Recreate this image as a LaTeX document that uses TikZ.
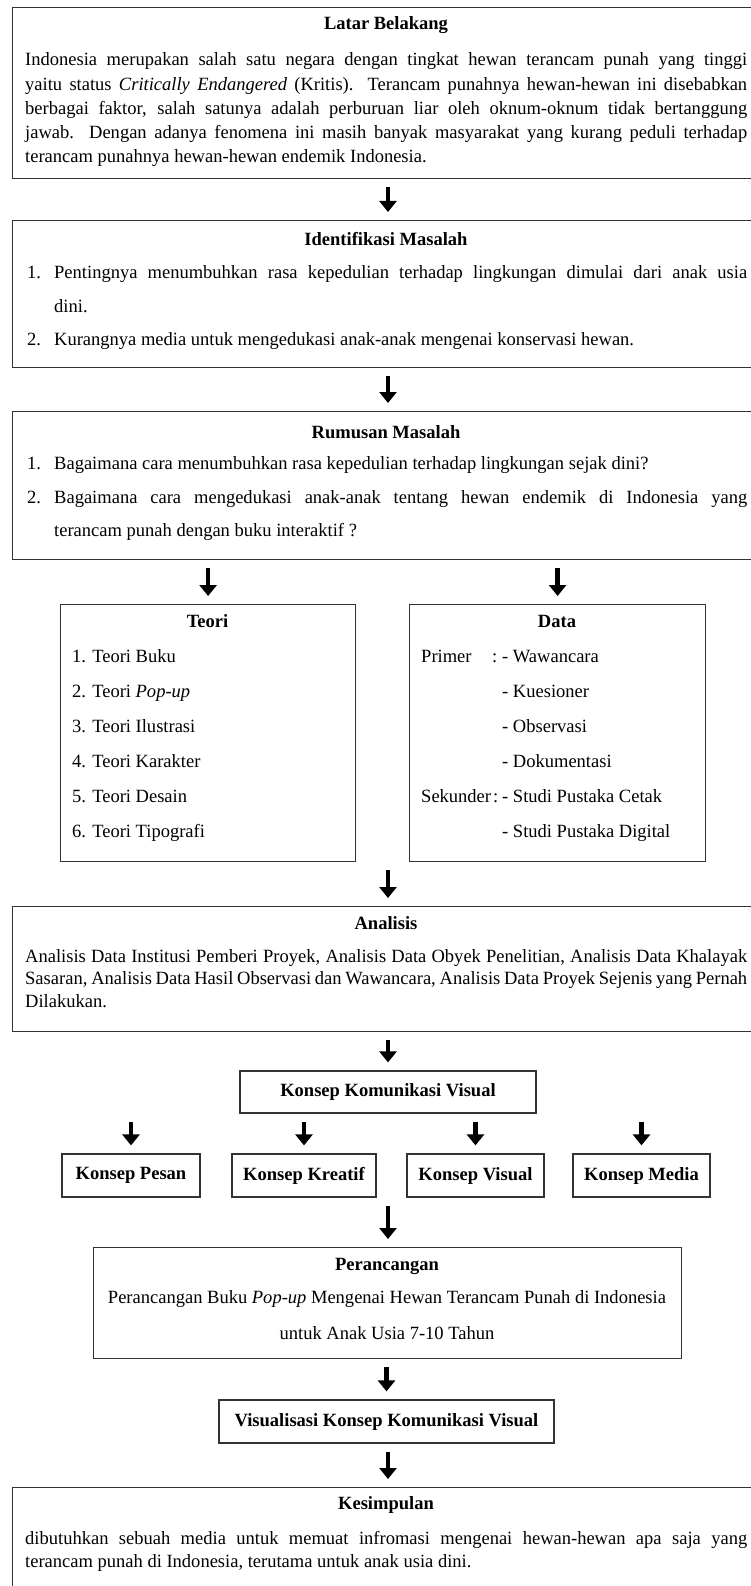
\documentclass[tikz,border=0pt]{standalone}
\usepackage{fontspec}
\setmainfont{Liberation Serif}[FakeStretch=0.99]
\usetikzlibrary{arrows.meta}
\hyphenpenalty=10000
\exhyphenpenalty=10000

\begin{document}
\begin{tikzpicture}[x=1pt,y=-1pt]
\useasboundingbox (0,0) rectangle (750,1586);

\coordinate (M) at (388,0);

\tikzset{BoxStyle/.style = {draw=black!80, line width=1.2pt, rectangle, inner sep=0pt},
 HeadStyle/.style = {font=\fontsize{18.7}{24}\selectfont\bfseries, inner sep=0pt, anchor=base},
 BodyStyle/.style = {font=\fontsize{18.7}{24.2}\selectfont, inner sep=0pt, anchor=base west, align=justify},
 ListStyle/.style = {font=\fontsize{18.7}{33.4}\selectfont, inner sep=0pt, anchor=base west, align=justify, text width=693},
 ItemStyle/.style = {font=\fontsize{18.7}{24}\selectfont, inner sep=0pt, anchor=base west},
 ArrowStyle/.style = {line width=4.5pt, -{Triangle[length=11pt,width=17pt]},
   shorten <=8pt, shorten >=8pt} }

\node[BoxStyle, minimum width=748, minimum height=171, anchor=north west] (B1) at (12,7) {};
\node[HeadStyle] (H1) at (386,30) {Latar Belakang};
\node[BodyStyle, text width=722] (P1) at (25,66) {Indonesia merupakan salah satu negara dengan tingkat hewan terancam punah yang tinggi\linebreak
 yaitu status \emph{Critically Endangered} (Kritis). Terancam punahnya hewan-hewan ini disebabkan\linebreak
 berbagai faktor, salah satunya adalah perburuan liar oleh oknum-oknum tidak bertanggung\linebreak
 jawab. Dengan adanya fenomena ini masih banyak masyarakat yang kurang peduli terhadap\linebreak
 terancam punahnya hewan-hewan endemik Indonesia.};

\node[BoxStyle, minimum width=748, minimum height=147, anchor=north west] (B2) at (12,220) {};
\node[HeadStyle] (H2) at (386,246) {Identifikasi Masalah};
\node[ItemStyle] (N21) at (27,279) {1.};
\node[ListStyle] (L21) at (54,279) {Pentingnya menumbuhkan rasa kepedulian terhadap lingkungan dimulai dari anak usia\linebreak dini.};
\node[ItemStyle] (N22) at (27,345) {2.};
\node[ListStyle] (L22) at (54,345) {Kurangnya media untuk mengedukasi anak-anak mengenai konservasi hewan.};

\node[BoxStyle, minimum width=748, minimum height=148, anchor=north west] (B3) at (12,411) {};
\node[HeadStyle] (H3) at (386,438) {Rumusan Masalah};
\node[ItemStyle] (N31) at (27,469) {1.};
\node[ListStyle] (L31) at (54,469) {Bagaimana cara menumbuhkan rasa kepedulian terhadap lingkungan sejak dini?};
\node[ItemStyle] (N32) at (27,503) {2.};
\node[ListStyle] (L32) at (54,503) {Bagaimana cara mengedukasi anak-anak tentang hewan endemik di Indonesia yang\linebreak terancam punah dengan buku interaktif ?};

\node[BoxStyle, minimum width=295, minimum height=257, anchor=north west] (B4) at (60,604) {};
\node[HeadStyle] (H4) at (207.5,627) {Teori};
\node[ItemStyle] (T1) at (72,662) {1. Teori Buku};
\node[ItemStyle] (T2) at (72,697) {2. Teori \emph{Pop-up}};
\node[ItemStyle] (T3) at (72,732) {3. Teori Ilustrasi};
\node[ItemStyle] (T4) at (72,767) {4. Teori Karakter};
\node[ItemStyle] (T5) at (72,802) {5. Teori Desain};
\node[ItemStyle] (T6) at (72,837) {6. Teori Tipografi};

\node[BoxStyle, minimum width=296, minimum height=257, anchor=north west] (B5) at (409,604) {};
\node[HeadStyle] (H5) at (557,627) {Data};
\node[ItemStyle] (D0) at (421,662) {Primer};
\node[ItemStyle] (C1) at (492,662) {:};
\node[ItemStyle] (D1) at (502,662) {- Wawancara};
\node[ItemStyle] (D2) at (502,697) {- Kuesioner};
\node[ItemStyle] (D3) at (502,732) {- Observasi};
\node[ItemStyle] (D4) at (502,767) {- Dokumentasi};
\node[ItemStyle] (D5) at (421,802) {Sekunder\kern2pt:};
\node[ItemStyle] (D6) at (502,802) {- Studi Pustaka Cetak};
\node[ItemStyle] (D7) at (502,837) {- Studi Pustaka Digital};

\node[BoxStyle, minimum width=748, minimum height=125, anchor=north west] (B6) at (12,906) {};
\node[HeadStyle] (H6) at (386,929) {Analisis};
\node[BodyStyle, text width=722, font=\fontsize{18.7}{22.5}\selectfont] (P6) at (25,962) {Analisis Data Institusi Pemberi Proyek, Analisis Data Obyek Penelitian, Analisis Data Khalayak\linebreak
 Sasaran, Analisis Data Hasil Observasi dan Wawancara, Analisis Data Proyek Sejenis yang Pernah\linebreak
 Dilakukan.};

\node[BoxStyle, HeadStyle, anchor=center, minimum width=296, minimum height=42] (K) at (388,1092) {Konsep Komunikasi Visual};

\node[BoxStyle, HeadStyle, anchor=center, minimum width=138, minimum height=43] (S1) at (131,1175.5) {Konsep Pesan};
\node[BoxStyle, HeadStyle, anchor=center, minimum width=144, minimum height=43] (S2) at (304,1175.5) {Konsep Kreatif};
\node[BoxStyle, HeadStyle, anchor=center, minimum width=137, minimum height=43] (S3) at (475.5,1175.5) {Konsep Visual};
\node[BoxStyle, HeadStyle, anchor=center, minimum width=137, minimum height=43] (S4) at (641.5,1175.5) {Konsep Media};

\node[BoxStyle, minimum width=588, minimum height=111, anchor=north west] (B7) at (93,1247) {};
\node[HeadStyle] (H7) at (387,1270) {Perancangan};
\node[ItemStyle, anchor=base] (P7) at (387,1303) {Perancangan Buku \emph{Pop-up} Mengenai Hewan Terancam Punah di Indonesia};
\node[ItemStyle, anchor=base] (Q7) at (387,1339) {untuk Anak Usia 7-10 Tahun};

\node[BoxStyle, HeadStyle, anchor=center, minimum width=335, minimum height=43] (V) at (386.5,1421.5) {Visualisasi Konsep Komunikasi Visual};

\node[BoxStyle, minimum width=748, minimum height=140, anchor=north west] (B8) at (12,1487) {};
\node[HeadStyle] (H8) at (386,1509) {Kesimpulan};
\node[BodyStyle, text width=722, font=\fontsize{18.7}{23}\selectfont] (P8) at (25,1544) {dibutuhkan sebuah media untuk memuat infromasi mengenai hewan-hewan apa saja yang\linebreak
 terancam punah di Indonesia, terutama untuk anak usia dini.};

\draw[ArrowStyle] (B1.south -| M) -- (B2.north -| M);
\draw[ArrowStyle] (B2.south -| M) -- (B3.north -| M);
\draw[ArrowStyle] (B3.south -| B4.north) -- (B4.north);
\draw[ArrowStyle] (B3.south -| B5.north) -- (B5.north);
\draw[ArrowStyle] (B4.south -| M) -- (B6.north -| M);
\draw[ArrowStyle] (B6.south -| K.north) -- (K.north);
\draw[ArrowStyle] (K.south -| S1.north) -- (S1.north);
\draw[ArrowStyle] (K.south -| S2.north) -- (S2.north);
\draw[ArrowStyle] (K.south -| S3.north) -- (S3.north);
\draw[ArrowStyle] (K.south -| S4.north) -- (S4.north);
\draw[ArrowStyle] (S1.south -| M) -- (B7.north -| M);
\draw[ArrowStyle] (B7.south -| V.north) -- (V.north);
\draw[ArrowStyle] (V.south -| M) -- (B8.north -| M);

\end{tikzpicture}
\end{document}
